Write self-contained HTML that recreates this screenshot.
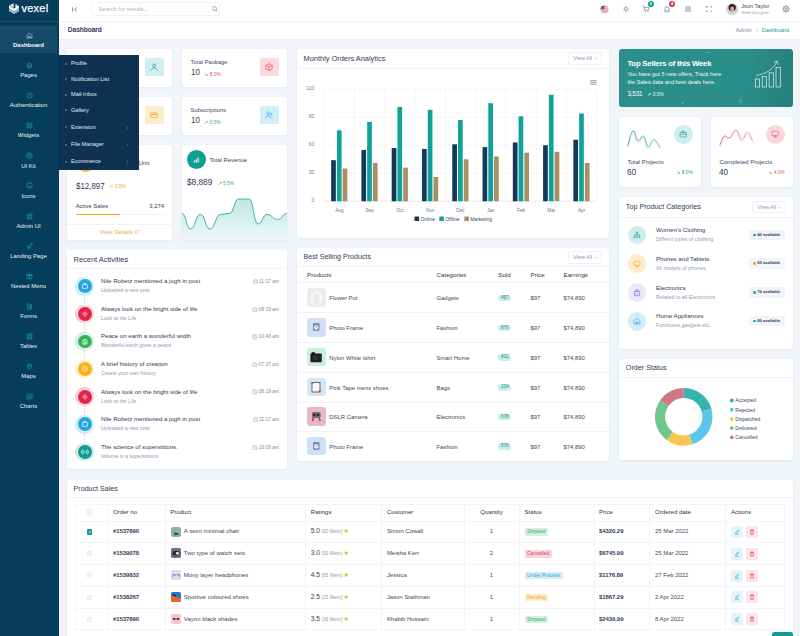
<!DOCTYPE html><html><head><meta charset="utf-8"><title>Vexel Dashboard</title><style>
*{box-sizing:border-box;margin:0;padding:0}
html,body{width:800px;height:636px;overflow:hidden}
body{position:relative;background:#f1f5f9;font-family:"Liberation Sans",sans-serif;color:#3b4863;font-size:5.9px;line-height:1.36}
.a{position:absolute;white-space:nowrap}
.card{position:absolute;background:#fff;border-radius:3px;box-shadow:0 1px 3px rgba(160,175,200,.18)}
.ct{position:absolute;left:6px;font-size:7px;color:#2f3a55;white-space:nowrap}
.hr{position:absolute;left:0;right:0;height:1px;background:#f1f3f7}
.mut{color:#8f9bb3}
#side{position:absolute;left:0;top:0;width:59px;height:636px;background:#063d5a}
.si{position:absolute;left:0;width:59px;text-align:center;color:#e9f1f6;font-size:5.9px;white-space:nowrap}
.sic{position:absolute;left:25.5px;width:7px;height:7px}
#sub{position:absolute;left:59px;top:55px;width:80px;height:115px;background:rgba(11,47,80,.985)}
.sm{position:absolute;left:12px;color:#e3ebf3;font-size:5.6px;white-space:nowrap}
.sd{position:absolute;left:6.4px;width:1.6px;height:1.6px;border-radius:50%;border:.4px solid #6f8aa6}
.btn{position:absolute;border:1px solid #eef1f6;border-radius:2px;background:#fff;color:#8f9bb3;font-size:5.4px;text-align:center}
th,td{font-weight:normal;text-align:left}
</style></head><body>
<div class="a" style="left:59px;top:0;width:741px;height:21.5px;background:#fff;border-bottom:1px solid #f1f3f7"></div>
<div class="a" style="left:59px;top:21.5px;width:741px;height:17px;background:#fff;box-shadow:0 1px 2px rgba(160,175,200,.15)"></div>
<div class="a" style="left:67.8px;top:24.8px;font-size:6.7px;color:#2f3a55;font-weight:bold;letter-spacing:-.1px">Dashboard</div>
<svg class="a" style="left:71.5px;top:6.5px" width="6" height="5" viewBox="0 0 6 5"><path d="M.6 .3V4.7M5 .5L2.4 2.5L5 4.5" fill="none" stroke="#6b7892" stroke-width=".8"/></svg>
<div class="a" style="left:91.3px;top:2px;width:129.2px;height:13.6px;border:1px solid #f0f2f6;border-radius:2.5px;background:#fff"></div>
<div class="a" style="left:98.3px;top:6.2px;font-size:5.8px;color:#a7b1c6">Search for results...</div>
<svg class="a" style="left:211.5px;top:6.2px" width="6" height="6" viewBox="0 0 6 6"><circle cx="2.6" cy="2.6" r="2" fill="none" stroke="#7d89a3" stroke-width=".7"/><path d="M4.1 4.1L5.4 5.4" stroke="#7d89a3" stroke-width=".7"/></svg>
<svg class="a" style="left:600px;top:4.7px" width="9" height="9" viewBox="0 0 9 9"><defs><clipPath id="fc"><circle cx="4.5" cy="4.5" r="4"/></clipPath></defs><g clip-path="url(#fc)"><rect width="9" height="9" fill="#f6c4cb"/><path d="M0 1.6H9M0 3.4H9M0 5.2H9M0 7H9" stroke="#ee8e9a" stroke-width=".8"/><rect width="4.4" height="4.2" fill="#4f63ad"/></g></svg>
<svg class="a" style="left:621.5px;top:5px" width="8" height="8" viewBox="0 0 8 8"><circle cx="4" cy="4" r="1.5" fill="none" stroke="#68748d" stroke-width=".65"/><path d="M4 .6V1.6M4 6.4V7.4M.6 4H1.6M6.4 4H7.4M1.6 1.6L2.3 2.3M5.7 5.7L6.4 6.4M1.6 6.4L2.3 5.7M5.7 2.3L6.4 1.6" stroke="#68748d" stroke-width=".6"/></svg>
<svg class="a" style="left:642px;top:5px" width="8" height="8" viewBox="0 0 8 8"><path d="M.6 1H1.8L2.8 5.2H6.4L7 2.4H2.2" fill="none" stroke="#6b7892" stroke-width=".7"/><circle cx="3.2" cy="6.6" r=".6" fill="#6b7892"/><circle cx="6" cy="6.6" r=".6" fill="#6b7892"/></svg>
<div class="a" style="left:647.8px;top:.6px;width:6px;height:6px;border-radius:50%;background:#0f9d94;color:#fff;font-size:4px;text-align:center;line-height:6px;font-weight:bold">5</div>
<svg class="a" style="left:663px;top:5px" width="8" height="8" viewBox="0 0 8 8"><path d="M2 5.6V3.6A2 2 0 0 1 6 3.6V5.6L6.6 6.2H1.4Z" fill="none" stroke="#6b7892" stroke-width=".7"/><path d="M3.4 7.2H4.6" stroke="#6b7892" stroke-width=".7"/></svg>
<div class="a" style="left:669px;top:.6px;width:6px;height:6px;border-radius:50%;background:#e2384d;color:#fff;font-size:4px;text-align:center;line-height:6px;font-weight:bold">4</div>
<svg class="a" style="left:684.7px;top:6px" width="6.2" height="6.2" viewBox="0 0 6.2 6.2"><rect x="0.4" y="0.4" width="1.3" height="1.3" fill="#77829a"/><rect x="0.4" y="2.4" width="1.3" height="1.3" fill="#77829a"/><rect x="0.4" y="4.4" width="1.3" height="1.3" fill="#77829a"/><rect x="2.4" y="0.4" width="1.3" height="1.3" fill="#77829a"/><rect x="2.4" y="2.4" width="1.3" height="1.3" fill="#77829a"/><rect x="2.4" y="4.4" width="1.3" height="1.3" fill="#77829a"/><rect x="4.4" y="0.4" width="1.3" height="1.3" fill="#77829a"/><rect x="4.4" y="2.4" width="1.3" height="1.3" fill="#77829a"/><rect x="4.4" y="4.4" width="1.3" height="1.3" fill="#77829a"/></svg>
<svg class="a" style="left:705.5px;top:6px" width="6.4" height="6.4" viewBox="0 0 6.4 6.4"><path d="M.4 2V.4H2M4.4 .4H6V2M6 4.4V6H4.4M2 6H.4V4.4" fill="none" stroke="#6b7892" stroke-width=".7"/></svg>
<svg class="a" style="left:725.5px;top:3px" width="12.4" height="12.4" viewBox="0 0 12.4 12.4"><defs><clipPath id="av"><circle cx="6.2" cy="6.2" r="5.6"/></clipPath></defs><circle cx="6.2" cy="6.2" r="6" fill="#d9dde3"/><g clip-path="url(#av)"><rect width="12.4" height="12.4" fill="#cfd3d8"/><ellipse cx="6.2" cy="4.6" rx="3.7" ry="3.7" fill="#2e2421"/><ellipse cx="6.2" cy="6" rx="2" ry="2.5" fill="#d6a68a"/><path d="M1.5 12.4C2 9.2 10.400 9.2 10.900 12.4Z" fill="#ded9d3"/></g></svg>
<div class="a" style="left:741.3px;top:2.9px;font-size:5.6px;color:#3b4863">Json Taylor</div>
<div class="a" style="left:741.3px;top:10px;font-size:4.4px;color:#9aa1b0">Web Designer</div>
<svg class="a" style="left:781.5px;top:5px" width="8" height="8" viewBox="0 0 8 8"><path d="M6.50 4.00L7.40 4.00M5.77 5.77L6.40 6.40M4.00 6.50L4.00 7.40M2.23 5.77L1.60 6.40M1.50 4.00L0.60 4.00M2.23 2.23L1.60 1.60M4.00 1.50L4.00 0.60M5.77 2.23L6.40 1.60" stroke="#5f6b85" stroke-width="1.25" fill="none"/><circle cx="4" cy="4" r="2.4" fill="#fff" stroke="#5f6b85" stroke-width=".65"/><circle cx="4" cy="4" r=".95" fill="none" stroke="#5f6b85" stroke-width=".55"/></svg>
<div class="a" style="left:735.8px;top:26.7px;font-size:5.6px;color:#7d89a3">Admin</div>
<div class="a" style="left:756.6px;top:26.7px;font-size:5.6px;color:#b6bfd0">/</div>
<div class="a" style="left:761.8px;top:26.7px;font-size:5.6px;color:#2a9d96">Dashboard</div>
<div class="card" style="left:67px;top:49px;width:105px;height:38px">
<div class="a" style="left:8.6px;top:9px;font-size:5.9px;color:#3b4863">Total Users</div>
<div class="a" style="left:9px;top:16.7px;font-size:9.2px;color:#394158;transform:scaleX(.87);transform-origin:0 0">45</div>
<div class="a" style="left:22.4px;top:23.2px;font-size:4.9px;color:#3cb66b">↗ 0.5%</div>
<div class="a" style="left:77.8px;top:8.7px;width:18.8px;height:18.6px;border-radius:2px;background:#cfeeee"></div>
<svg class="a" style="left:83.1px;top:13.9px" width="8.2" height="8.2" viewBox="0 0 7 7" fill="none" stroke="#1f9d96" stroke-width=".62"><circle cx="3.5" cy="2.2" r="1.3"/><path d="M1 6.2C1.2 3.6 5.8 3.6 6 6.2"/></svg>
</div>
<div class="card" style="left:182px;top:49px;width:105px;height:38px">
<div class="a" style="left:8.6px;top:9px;font-size:5.9px;color:#3b4863">Total Package</div>
<div class="a" style="left:9px;top:16.7px;font-size:9.2px;color:#394158;transform:scaleX(.87);transform-origin:0 0">10</div>
<div class="a" style="left:22.4px;top:23.2px;font-size:4.9px;color:#e2566b">↘ 8.0%</div>
<div class="a" style="left:77.8px;top:8.7px;width:18.8px;height:18.6px;border-radius:2px;background:#fadadd"></div>
<svg class="a" style="left:83.1px;top:13.9px" width="8.2" height="8.2" viewBox="0 0 7 7" fill="none" stroke="#e2566b" stroke-width=".62"><path d="M3.5 .6L6.2 2V5L3.5 6.4L.8 5V2ZM.8 2L3.5 3.4L6.2 2M3.5 3.4V6.4"/></svg>
</div>
<div class="card" style="left:67px;top:97px;width:105px;height:38px">
<div class="a" style="left:8.6px;top:9px;font-size:5.9px;color:#3b4863">Total Payments</div>
<div class="a" style="left:9px;top:16.7px;font-size:9.2px;color:#394158;transform:scaleX(.87);transform-origin:0 0">60</div>
<div class="a" style="left:22.4px;top:23.2px;font-size:4.9px;color:#3cb66b">↗ 0.5%</div>
<div class="a" style="left:77.8px;top:8.7px;width:18.8px;height:18.6px;border-radius:2px;background:#fdeccb"></div>
<svg class="a" style="left:83.1px;top:13.9px" width="8.2" height="8.2" viewBox="0 0 7 7" fill="none" stroke="#f3ae2b" stroke-width=".62"><rect x=".6" y="1.4" width="5.8" height="4.2" rx=".6"/><path d="M.6 3H6.4" stroke-width="1"/></svg>
</div>
<div class="card" style="left:182px;top:97px;width:105px;height:38px">
<div class="a" style="left:8.6px;top:9px;font-size:5.9px;color:#3b4863">Subscriptions</div>
<div class="a" style="left:9px;top:16.7px;font-size:9.2px;color:#394158;transform:scaleX(.87);transform-origin:0 0">10</div>
<div class="a" style="left:22.4px;top:23.2px;font-size:4.9px;color:#3cb66b">↗ 0.5%</div>
<div class="a" style="left:77.8px;top:8.7px;width:18.8px;height:18.6px;border-radius:2px;background:#d3edf9"></div>
<svg class="a" style="left:83.1px;top:13.9px" width="8.2" height="8.2" viewBox="0 0 7 7" fill="none" stroke="#3aa7dc" stroke-width=".62"><circle cx="2.8" cy="2.2" r="1.3"/><path d="M.5 6.2C.7 3.6 4.9 3.6 5.1 6.2M5.6 1.8V3.6M4.7 2.7H6.5"/></svg>
</div>
<div class="card" style="left:67px;top:145px;width:105px;height:95px">
<div class="a" style="left:8.5px;top:7.8px;width:19px;height:19px;border-radius:50%;background:#f7b731"></div>
<div class="a" style="left:33.2px;top:13.7px;font-size:5.9px">Total Cost Per Unit</div>
<div class="a" style="left:8.6px;top:34.6px;font-size:9.2px;color:#2f3a55;transform:scaleX(.86);transform-origin:0 0">$12,897</div>
<div class="a" style="left:42.4px;top:39.3px;font-size:4.9px;color:#f3a33a">↗ 3.5%</div>
<div class="a" style="left:8.7px;top:56.5px;font-size:5.9px;color:#2f3a55">Active Sales</div>
<div class="a" style="right:8px;top:56.5px;font-size:5.9px;color:#2f3a55">3,274</div>
<div class="a" style="left:8.7px;top:69px;width:88.3px;height:1.3px;border-radius:1px;background:#eef1f6"></div>
<div class="a" style="left:8.7px;top:69px;width:44.3px;height:1.3px;border-radius:1px;background:#f7a90e"></div>
<div class="hr" style="top:79.3px"></div>
<div class="a" style="left:0;width:105px;text-align:center;top:83px;font-size:6.1px;color:#f3a33a">View Details <svg width="4.6" height="4.6" viewBox="0 0 5 5" style="vertical-align:-.4px"><path d="M2 .8H.8V4.2H4.2V3M2.8 .6H4.4V2.2M4.4 .6L2.3 2.7" fill="none" stroke="#f3a33a" stroke-width=".5"/></svg></div>
</div>
<div class="card" style="left:182px;top:145px;width:105px;height:95px;overflow:hidden">
<div class="a" style="left:5px;top:5px;width:19px;height:19px;border-radius:50%;background:#0f9d94"></div>
<svg class="a" style="left:11px;top:10.6px" width="7.4" height="7.4" viewBox="0 0 7.4 7.4"><path d="M1.4 6.6V4.6M3.2 6.6V3.2M5.1 6.6V1.2" stroke="#d8f3f0" stroke-width="1.3"/></svg>
<div class="a" style="left:27.4px;top:11.2px;font-size:5.9px">Total Revenue</div>
<div class="a" style="left:5.3px;top:31px;font-size:9.2px;color:#2f3a55;transform:scaleX(.9);transform-origin:0 0">$8,889</div>
<div class="a" style="left:35.6px;top:35.6px;font-size:4.9px;color:#3cb66b">↗ 5.5%</div>
<svg class="a" style="left:0;top:0" width="105" height="95" viewBox="0 0 105 95"><defs><linearGradient id="rg" x1="0" y1="0" x2="0" y2="1"><stop offset="0" stop-color="#bfe6e3"/><stop offset="1" stop-color="#eef9f8"/></linearGradient></defs><path d="M0.00 68.50C4.25 68.50 4.25 84.00 8.50 84.00C13.45 84.00 13.45 69.40 18.40 69.40C23.20 69.40 23.20 84.00 28.00 84.00C33.25 84.00 33.25 69.40 38.50 69.40C43.00 69.40 43.00 68.50 47.50 68.50C52.00 68.50 52.00 54.00 56.50 54.00C61.75 54.00 61.75 54.00 67.00 54.00C71.50 54.00 71.50 79.00 76.00 79.00C80.50 79.00 80.50 69.40 85.00 69.40C90.25 69.40 90.25 74.50 95.50 74.50C100.25 74.50 100.25 68.50 105.00 68.50L105 95L0 95Z" fill="url(#rg)"/><path d="M0.00 68.50C4.25 68.50 4.25 84.00 8.50 84.00C13.45 84.00 13.45 69.40 18.40 69.40C23.20 69.40 23.20 84.00 28.00 84.00C33.25 84.00 33.25 69.40 38.50 69.40C43.00 69.40 43.00 68.50 47.50 68.50C52.00 68.50 52.00 54.00 56.50 54.00C61.75 54.00 61.75 54.00 67.00 54.00C71.50 54.00 71.50 79.00 76.00 79.00C80.50 79.00 80.50 69.40 85.00 69.40C90.25 69.40 90.25 74.50 95.50 74.50C100.25 74.50 100.25 68.50 105.00 68.50" fill="none" stroke="#2aa9a3" stroke-width=".9"/></svg>
</div>
<div class="card" style="left:67px;top:250px;width:220px;height:218.5px">
<div class="ct" style="top:4.6px;left:6.6px;font-size:7.45px">Recent Activities</div><div class="hr" style="top:17.6px"></div>
<div class="a" style="left:8.399999999999999px;top:27.0px;width:18.6px;height:18.6px;border-radius:50%;background:#25a8e0;opacity:.24"></div>
<div class="a" style="left:9.6px;top:28.2px;width:16.2px;height:16.2px;border-radius:50%;background:#fff;opacity:.4"></div>
<div class="a" style="left:10.799999999999999px;top:29.4px;width:13.8px;height:13.8px;border-radius:50%;background:#25a8e0"></div>
<div class="a" style="left:17.4px;top:45.9px;height:8.4px;width:0;border-left:.7px dotted #25a8e0;opacity:.3"></div>
<svg class="a" style="left:13.799999999999999px;top:32.4px" width="7.8" height="7.8" viewBox="0 0 5.6 5.6" fill="none" stroke="#fff" stroke-width=".48"><rect x="1" y="1.8" width="3.6" height="2.8" rx=".4"/><path d="M2.1 1.8V1.1H3.5V1.8"/></svg>
<div class="a" style="left:34px;top:27.2px;font-size:6.07px;color:#2f3a55">Nile Robetz mentioned a jogh in post</div>
<div class="a mut" style="left:34px;top:37.2px;font-size:5.2px">Uploaded a new post</div>
<div class="a" style="right:8px;top:28.9px;font-size:4.9px;color:#7d89a3"><svg width="5.6" height="5.6" viewBox="0 0 5 5" style="vertical-align:-1.2px;margin-right:-.6px"><circle cx="2.5" cy="2.5" r="2" fill="none" stroke="#7d89a3" stroke-width=".45"/><path d="M2.5 1.3V2.6L3.3 3" fill="none" stroke="#7d89a3" stroke-width=".45"/></svg> 11:17 am</div>
<div class="a" style="left:8.399999999999999px;top:54.6px;width:18.6px;height:18.6px;border-radius:50%;background:#e4234b;opacity:.24"></div>
<div class="a" style="left:9.6px;top:55.8px;width:16.2px;height:16.2px;border-radius:50%;background:#fff;opacity:.4"></div>
<div class="a" style="left:10.799999999999999px;top:57.0px;width:13.8px;height:13.8px;border-radius:50%;background:#e4234b"></div>
<div class="a" style="left:17.4px;top:73.5px;height:8.4px;width:0;border-left:.7px dotted #e4234b;opacity:.3"></div>
<svg class="a" style="left:13.799999999999999px;top:60.0px" width="7.8" height="7.8" viewBox="0 0 5.6 5.6" fill="none" stroke="#fff" stroke-width=".48"><circle cx="2.8" cy="2.8" r=".9"/><path d="M2.8 .9V1.4M2.8 4.2V4.7M.9 2.8H1.4M4.2 2.8H4.7M1.5 1.5L1.8 1.8M3.8 3.8L4.1 4.1M1.5 4.1L1.8 3.8M3.8 1.8L4.1 1.5"/></svg>
<div class="a" style="left:34px;top:54.8px;font-size:6.07px;color:#2f3a55">Always look on the bright side of life</div>
<div class="a mut" style="left:34px;top:64.8px;font-size:5.2px">Look at the Life</div>
<div class="a" style="right:8px;top:56.5px;font-size:4.9px;color:#7d89a3"><svg width="5.6" height="5.6" viewBox="0 0 5 5" style="vertical-align:-1.2px;margin-right:-.6px"><circle cx="2.5" cy="2.5" r="2" fill="none" stroke="#7d89a3" stroke-width=".45"/><path d="M2.5 1.3V2.6L3.3 3" fill="none" stroke="#7d89a3" stroke-width=".45"/></svg> 08:19 am</div>
<div class="a" style="left:8.399999999999999px;top:82.2px;width:18.6px;height:18.6px;border-radius:50%;background:#34b35f;opacity:.24"></div>
<div class="a" style="left:9.6px;top:83.4px;width:16.2px;height:16.2px;border-radius:50%;background:#fff;opacity:.4"></div>
<div class="a" style="left:10.799999999999999px;top:84.6px;width:13.8px;height:13.8px;border-radius:50%;background:#34b35f"></div>
<div class="a" style="left:17.4px;top:101.1px;height:8.4px;width:0;border-left:.7px dotted #34b35f;opacity:.3"></div>
<svg class="a" style="left:13.799999999999999px;top:87.6px" width="7.8" height="7.8" viewBox="0 0 5.6 5.6" fill="none" stroke="#fff" stroke-width=".48"><circle cx="2.8" cy="2.8" r="1.8"/><path d="M2.8 1V4.6M2.8 2.8L1.6 4M2.8 2.8L4 4"/></svg>
<div class="a" style="left:34px;top:82.4px;font-size:6.07px;color:#2f3a55">Peace on earth a wonderful width</div>
<div class="a mut" style="left:34px;top:92.4px;font-size:5.2px">Wonderful earth gives a peace</div>
<div class="a" style="right:8px;top:84.1px;font-size:4.9px;color:#7d89a3"><svg width="5.6" height="5.6" viewBox="0 0 5 5" style="vertical-align:-1.2px;margin-right:-.6px"><circle cx="2.5" cy="2.5" r="2" fill="none" stroke="#7d89a3" stroke-width=".45"/><path d="M2.5 1.3V2.6L3.3 3" fill="none" stroke="#7d89a3" stroke-width=".45"/></svg> 10:43 am</div>
<div class="a" style="left:8.399999999999999px;top:109.8px;width:18.6px;height:18.6px;border-radius:50%;background:#f7b21e;opacity:.24"></div>
<div class="a" style="left:9.6px;top:111.0px;width:16.2px;height:16.2px;border-radius:50%;background:#fff;opacity:.4"></div>
<div class="a" style="left:10.799999999999999px;top:112.2px;width:13.8px;height:13.8px;border-radius:50%;background:#f7b21e"></div>
<div class="a" style="left:17.4px;top:128.7px;height:8.4px;width:0;border-left:.7px dotted #f7b21e;opacity:.3"></div>
<svg class="a" style="left:13.799999999999999px;top:115.2px" width="7.8" height="7.8" viewBox="0 0 5.6 5.6" fill="none" stroke="#fff" stroke-width=".48"><circle cx="2.8" cy="2.8" r="1.8"/><path d="M2.8 1.8V2.9L3.5 3.3"/></svg>
<div class="a" style="left:34px;top:110.0px;font-size:6.07px;color:#2f3a55">A brief history of creation</div>
<div class="a mut" style="left:34px;top:120.0px;font-size:5.2px">Create your own history</div>
<div class="a" style="right:8px;top:111.7px;font-size:4.9px;color:#7d89a3"><svg width="5.6" height="5.6" viewBox="0 0 5 5" style="vertical-align:-1.2px;margin-right:-.6px"><circle cx="2.5" cy="2.5" r="2" fill="none" stroke="#7d89a3" stroke-width=".45"/><path d="M2.5 1.3V2.6L3.3 3" fill="none" stroke="#7d89a3" stroke-width=".45"/></svg> 07:27 pm</div>
<div class="a" style="left:8.399999999999999px;top:137.4px;width:18.6px;height:18.6px;border-radius:50%;background:#e4234b;opacity:.24"></div>
<div class="a" style="left:9.6px;top:138.6px;width:16.2px;height:16.2px;border-radius:50%;background:#fff;opacity:.4"></div>
<div class="a" style="left:10.799999999999999px;top:139.8px;width:13.8px;height:13.8px;border-radius:50%;background:#e4234b"></div>
<div class="a" style="left:17.4px;top:156.3px;height:8.4px;width:0;border-left:.7px dotted #e4234b;opacity:.3"></div>
<svg class="a" style="left:13.799999999999999px;top:142.8px" width="7.8" height="7.8" viewBox="0 0 5.6 5.6" fill="none" stroke="#fff" stroke-width=".48"><circle cx="2.8" cy="2.8" r=".9"/><path d="M2.8 .9V1.4M2.8 4.2V4.7M.9 2.8H1.4M4.2 2.8H4.7M1.5 1.5L1.8 1.8M3.8 3.8L4.1 4.1M1.5 4.1L1.8 3.8M3.8 1.8L4.1 1.5"/></svg>
<div class="a" style="left:34px;top:137.6px;font-size:6.07px;color:#2f3a55">Always look on the bright side of life</div>
<div class="a mut" style="left:34px;top:147.6px;font-size:5.2px">Look at the Life</div>
<div class="a" style="right:8px;top:139.3px;font-size:4.9px;color:#7d89a3"><svg width="5.6" height="5.6" viewBox="0 0 5 5" style="vertical-align:-1.2px;margin-right:-.6px"><circle cx="2.5" cy="2.5" r="2" fill="none" stroke="#7d89a3" stroke-width=".45"/><path d="M2.5 1.3V2.6L3.3 3" fill="none" stroke="#7d89a3" stroke-width=".45"/></svg> 08:19 am</div>
<div class="a" style="left:8.399999999999999px;top:165.0px;width:18.6px;height:18.6px;border-radius:50%;background:#25a8e0;opacity:.24"></div>
<div class="a" style="left:9.6px;top:166.2px;width:16.2px;height:16.2px;border-radius:50%;background:#fff;opacity:.4"></div>
<div class="a" style="left:10.799999999999999px;top:167.4px;width:13.8px;height:13.8px;border-radius:50%;background:#25a8e0"></div>
<div class="a" style="left:17.4px;top:183.9px;height:8.4px;width:0;border-left:.7px dotted #25a8e0;opacity:.3"></div>
<svg class="a" style="left:13.799999999999999px;top:170.4px" width="7.8" height="7.8" viewBox="0 0 5.6 5.6" fill="none" stroke="#fff" stroke-width=".48"><rect x="1" y="1.8" width="3.6" height="2.8" rx=".4"/><path d="M2.1 1.8V1.1H3.5V1.8"/></svg>
<div class="a" style="left:34px;top:165.2px;font-size:6.07px;color:#2f3a55">Nile Robetz mentioned a jogh in post</div>
<div class="a mut" style="left:34px;top:175.2px;font-size:5.2px">Uploaded a new post</div>
<div class="a" style="right:8px;top:166.9px;font-size:4.9px;color:#7d89a3"><svg width="5.6" height="5.6" viewBox="0 0 5 5" style="vertical-align:-1.2px;margin-right:-.6px"><circle cx="2.5" cy="2.5" r="2" fill="none" stroke="#7d89a3" stroke-width=".45"/><path d="M2.5 1.3V2.6L3.3 3" fill="none" stroke="#7d89a3" stroke-width=".45"/></svg> 11:17 am</div>
<div class="a" style="left:8.399999999999999px;top:192.6px;width:18.6px;height:18.6px;border-radius:50%;background:#0f9d94;opacity:.24"></div>
<div class="a" style="left:9.6px;top:193.8px;width:16.2px;height:16.2px;border-radius:50%;background:#fff;opacity:.4"></div>
<div class="a" style="left:10.799999999999999px;top:195.0px;width:13.8px;height:13.8px;border-radius:50%;background:#0f9d94"></div>
<svg class="a" style="left:13.799999999999999px;top:198.0px" width="7.8" height="7.8" viewBox="0 0 5.6 5.6" fill="none" stroke="#fff" stroke-width=".48"><path d="M2.8 2V3.6M1.9 1.6A1.6 1.6 0 0 0 1.9 4M3.7 1.6A1.6 1.6 0 0 1 3.7 4M1.1 1A2.6 2.6 0 0 0 1.1 4.6M4.5 1A2.6 2.6 0 0 1 4.5 4.6"/></svg>
<div class="a" style="left:34px;top:192.8px;font-size:6.07px;color:#2f3a55">The science of superstitions.</div>
<div class="a mut" style="left:34px;top:202.8px;font-size:5.2px">Volume is a superstitions</div>
<div class="a" style="right:8px;top:194.5px;font-size:4.9px;color:#7d89a3"><svg width="5.6" height="5.6" viewBox="0 0 5 5" style="vertical-align:-1.2px;margin-right:-.6px"><circle cx="2.5" cy="2.5" r="2" fill="none" stroke="#7d89a3" stroke-width=".45"/><path d="M2.5 1.3V2.6L3.3 3" fill="none" stroke="#7d89a3" stroke-width=".45"/></svg> 10:09 am</div>
</div>
<div class="card" style="left:297px;top:49px;width:312px;height:188.5px">
<div class="ct" style="top:4.6px;left:6.6px;font-size:7.4px">Monthly Orders Analytics</div><div class="hr" style="top:18.8px"></div>
<div class="btn" style="left:270.8px;top:2.7px;width:34.6px;height:13.4px;line-height:11.6px">View All <svg width="3.4" height="3" viewBox="0 0 4 3"><path d="M.6 .8L2 2.2L3.4 .8" fill="none" stroke="#8f9bb3" stroke-width=".6"/></svg></div>
<svg class="a" style="left:0;top:24px" width="312" height="164" viewBox="297 73 312 164" font-family="Liberation Sans, sans-serif"><path d="M324.25 201.25H596.8" stroke="#e9ecf1" stroke-width=".5"/><text x="314" y="201.65" font-size="4.7" fill="#707886" text-anchor="end">0</text><path d="M324.25 173.25H596.8" stroke="#e9ecf1" stroke-width=".5"/><text x="314" y="173.65" font-size="4.7" fill="#707886" text-anchor="end">30</text><path d="M324.25 145.25H596.8" stroke="#e9ecf1" stroke-width=".5"/><text x="314" y="145.65" font-size="4.7" fill="#707886" text-anchor="end">60</text><path d="M324.25 117.25H596.8" stroke="#e9ecf1" stroke-width=".5"/><text x="314" y="117.65" font-size="4.7" fill="#707886" text-anchor="end">90</text><path d="M324.25 89.25H596.8" stroke="#e9ecf1" stroke-width=".5"/><text x="314" y="89.65" font-size="4.7" fill="#707886" text-anchor="end">120</text><path d="M324.25 89.25V201.25" stroke="#e9ecf1" stroke-width=".5"/><path d="M354.53 89.25V201.25" stroke="#e9ecf1" stroke-width=".5"/><path d="M384.81 89.25V201.25" stroke="#e9ecf1" stroke-width=".5"/><path d="M415.09 89.25V201.25" stroke="#e9ecf1" stroke-width=".5"/><path d="M445.37 89.25V201.25" stroke="#e9ecf1" stroke-width=".5"/><path d="M475.65 89.25V201.25" stroke="#e9ecf1" stroke-width=".5"/><path d="M505.93 89.25V201.25" stroke="#e9ecf1" stroke-width=".5"/><path d="M536.21 89.25V201.25" stroke="#e9ecf1" stroke-width=".5"/><path d="M566.49 89.25V201.25" stroke="#e9ecf1" stroke-width=".5"/><path d="M596.77 89.25V201.25" stroke="#e9ecf1" stroke-width=".5"/><path d="M324.25 201.25H596.8" stroke="#dfe3ea" stroke-width=".6"/><rect x="331.14" y="160.18" width="4.7" height="41.07" fill="#133a58"/><rect x="336.89" y="130.32" width="4.7" height="70.93" fill="#0fa29c"/><rect x="342.64" y="168.58" width="4.7" height="32.67" fill="#a99062"/><text x="339.39" y="211.7" font-size="4.7" fill="#707886" text-anchor="middle">Aug</text><rect x="361.42" y="149.92" width="4.7" height="51.33" fill="#133a58"/><rect x="367.17" y="121.92" width="4.7" height="79.33" fill="#0fa29c"/><rect x="372.92" y="162.98" width="4.7" height="38.27" fill="#a99062"/><text x="369.67" y="211.7" font-size="4.7" fill="#707886" text-anchor="middle">Sep</text><rect x="391.70" y="148.05" width="4.7" height="53.20" fill="#133a58"/><rect x="397.45" y="106.98" width="4.7" height="94.27" fill="#0fa29c"/><rect x="403.20" y="167.65" width="4.7" height="33.60" fill="#a99062"/><text x="399.95" y="211.7" font-size="4.7" fill="#707886" text-anchor="middle">Oct</text><rect x="421.98" y="148.98" width="4.7" height="52.27" fill="#133a58"/><rect x="427.73" y="109.78" width="4.7" height="91.47" fill="#0fa29c"/><rect x="433.48" y="176.98" width="4.7" height="24.27" fill="#a99062"/><text x="430.23" y="211.7" font-size="4.7" fill="#707886" text-anchor="middle">Nov</text><rect x="452.26" y="144.32" width="4.7" height="56.93" fill="#133a58"/><rect x="458.01" y="120.05" width="4.7" height="81.20" fill="#0fa29c"/><rect x="463.76" y="159.25" width="4.7" height="42.00" fill="#a99062"/><text x="460.51" y="211.7" font-size="4.7" fill="#707886" text-anchor="middle">Dec</text><rect x="482.54" y="147.12" width="4.7" height="54.13" fill="#133a58"/><rect x="488.29" y="103.25" width="4.7" height="98.00" fill="#0fa29c"/><rect x="494.04" y="156.45" width="4.7" height="44.80" fill="#a99062"/><text x="490.79" y="211.7" font-size="4.7" fill="#707886" text-anchor="middle">Jan</text><rect x="512.82" y="142.45" width="4.7" height="58.80" fill="#133a58"/><rect x="518.57" y="116.32" width="4.7" height="84.93" fill="#0fa29c"/><rect x="524.32" y="152.72" width="4.7" height="48.53" fill="#a99062"/><text x="521.07" y="211.7" font-size="4.7" fill="#707886" text-anchor="middle">Feb</text><rect x="543.10" y="145.25" width="4.7" height="56.00" fill="#133a58"/><rect x="548.85" y="94.85" width="4.7" height="106.40" fill="#0fa29c"/><rect x="554.60" y="151.78" width="4.7" height="49.47" fill="#a99062"/><text x="551.35" y="211.7" font-size="4.7" fill="#707886" text-anchor="middle">Mar</text><rect x="573.38" y="139.65" width="4.7" height="61.60" fill="#133a58"/><rect x="579.13" y="113.52" width="4.7" height="87.73" fill="#0fa29c"/><rect x="584.88" y="162.98" width="4.7" height="38.27" fill="#a99062"/><text x="581.63" y="211.7" font-size="4.7" fill="#707886" text-anchor="middle">Apr</text><rect x="414.5" y="216.5" width="4.6" height="4.6" rx=".5" fill="#133a58"/><text x="420.6" y="220.6" font-size="5" fill="#3b4863">Online</text><rect x="439.3" y="216.5" width="4.6" height="4.6" rx=".5" fill="#0fa29c"/><text x="445.2" y="220.6" font-size="5" fill="#3b4863">Offline</text><rect x="464.3" y="216.5" width="4.6" height="4.6" rx=".5" fill="#a99062"/><text x="470.2" y="220.6" font-size="5" fill="#3b4863">Marketing</text><path d="M590.2 80.6H596.6M590.2 82.4H596.6M590.2 84.2H596.6" stroke="#6b7892" stroke-width=".7"/></svg>
</div>
<div class="card" style="left:297px;top:248px;width:312px;height:213px">
<div class="ct" style="top:5.4px;left:6.6px;font-size:7.1px">Best Selling Products</div><div class="hr" style="top:18.2px"></div>
<div class="btn" style="left:270.8px;top:2.7px;width:34.6px;height:13.4px;line-height:11.6px">View All <svg width="3.4" height="3" viewBox="0 0 4 3"><path d="M.6 .8L2 2.2L3.4 .8" fill="none" stroke="#8f9bb3" stroke-width=".6"/></svg></div>
<div class="a" style="left:10px;top:22.6px;font-size:6.2px;color:#2a3350">Products</div>
<div class="a" style="left:139.5px;top:22.6px;font-size:6.2px;color:#2a3350">Categories</div>
<div class="a" style="left:201.3px;top:22.6px;font-size:6.2px;color:#2a3350">Sold</div>
<div class="a" style="left:233.5px;top:22.6px;font-size:6.2px;color:#2a3350">Price</div>
<div class="a" style="left:266.5px;top:22.6px;font-size:6.2px;color:#2a3350">Earnings</div>
<div class="hr" style="top:34.3px"></div>
<div class="a" style="left:10px;top:40.3px;width:18.6px;height:18.6px;border-radius:3px;background:#ececec"><svg width="18.6" height="18.6" viewBox="0 0 18.6 18.6"><path d="M5 12V9A4.5 4.5 0 0 1 14 9V12" fill="none" stroke="#fff" stroke-width="1.6"/><rect x="3.8" y="10.4" width="2.6" height="4" rx="1" fill="#f8f8f8"/><rect x="12.4" y="10.4" width="2.6" height="4" rx="1" fill="#f8f8f8"/></svg></div>
<div class="a" style="left:32.3px;top:46.4px;font-size:5.9px">Flower Pot</div>
<div class="a" style="left:139.5px;top:46.4px;font-size:5.9px">Gadgets</div>
<div class="a" style="left:201.3px;top:46.8px;width:13px;height:6.6px;border-radius:3.3px;background:#c9ecea;color:#158f88;font-size:4.5px;text-align:center;line-height:6.6px">457</div>
<div class="a" style="left:233.5px;top:46.4px;font-size:5.9px">$97</div>
<div class="a" style="left:266.5px;top:46.4px;font-size:5.9px">$74,890</div>
<div class="hr" style="top:64.4px"></div>
<div class="a" style="left:10px;top:70.0px;width:18.6px;height:18.6px;border-radius:3px;background:#cfe0f7"><svg width="18.6" height="18.6" viewBox="0 0 18.6 18.6"><rect x="6" y="5" width="6.6" height="8" rx="1.4" fill="#7d8fb0"/><circle cx="9.3" cy="9.4" r="2.2" fill="#eef3fb"/><path d="M9.3 8.2V9.5H10.2" stroke="#5b6c8c" stroke-width=".5" fill="none"/></svg></div>
<div class="a" style="left:32.3px;top:76.1px;font-size:5.9px">Photo Frame</div>
<div class="a" style="left:139.5px;top:76.1px;font-size:5.9px">Fashion</div>
<div class="a" style="left:201.3px;top:76.5px;width:13px;height:6.6px;border-radius:3.3px;background:#c9ecea;color:#158f88;font-size:4.5px;text-align:center;line-height:6.6px">876</div>
<div class="a" style="left:233.5px;top:76.1px;font-size:5.9px">$97</div>
<div class="a" style="left:266.5px;top:76.1px;font-size:5.9px">$74,890</div>
<div class="hr" style="top:94.1px"></div>
<div class="a" style="left:10px;top:99.7px;width:18.6px;height:18.6px;border-radius:3px;background:#c9f0dd"><svg width="18.6" height="18.6" viewBox="0 0 18.6 18.6"><rect x="3.4" y="5.600" width="11.400" height="8.600" rx="1" fill="#1c1c1e"/><circle cx="8.600" cy="10" r="2.700" fill="#34343a"/><rect x="4.600" y="4.200" width="3.400" height="1.800" fill="#1c1c1e"/><rect x="12" y="7" width="2.200" height="5.500" fill="#2b2b30"/></svg></div>
<div class="a" style="left:32.3px;top:105.8px;font-size:5.9px">Nylon White tshirt</div>
<div class="a" style="left:139.5px;top:105.8px;font-size:5.9px">Smart Home</div>
<div class="a" style="left:201.3px;top:106.2px;width:13px;height:6.6px;border-radius:3.3px;background:#c9ecea;color:#158f88;font-size:4.5px;text-align:center;line-height:6.6px">432</div>
<div class="a" style="left:233.5px;top:105.8px;font-size:5.9px">$97</div>
<div class="a" style="left:266.5px;top:105.8px;font-size:5.9px">$74,890</div>
<div class="hr" style="top:123.8px"></div>
<div class="a" style="left:10px;top:129.5px;width:18.6px;height:18.6px;border-radius:3px;background:#d2e8f6"><svg width="18.6" height="18.6" viewBox="0 0 18.6 18.6"><rect x="5" y="4.6" width="8" height="9.4" fill="#f3f6fa" stroke="#5a4a42" stroke-width=".8"/><circle cx="5.4" cy="5" r="1.1" fill="#d2452f"/><circle cx="12.6" cy="13.4" r="1.1" fill="#d2452f"/></svg></div>
<div class="a" style="left:32.3px;top:135.6px;font-size:5.9px">Pink Tape mens shoes</div>
<div class="a" style="left:139.5px;top:135.6px;font-size:5.9px">Bags</div>
<div class="a" style="left:201.3px;top:136.0px;width:13px;height:6.6px;border-radius:3.3px;background:#c9ecea;color:#158f88;font-size:4.5px;text-align:center;line-height:6.6px">234</div>
<div class="a" style="left:233.5px;top:135.6px;font-size:5.9px">$97</div>
<div class="a" style="left:266.5px;top:135.6px;font-size:5.9px">$74,890</div>
<div class="hr" style="top:153.6px"></div>
<div class="a" style="left:10px;top:159.2px;width:18.6px;height:18.6px;border-radius:3px;background:#e8b7c7"><svg width="18.6" height="18.6" viewBox="0 0 18.6 18.6"><rect x="5" y="5" width="8.6" height="6" rx="1.6" fill="#6f7077"/><circle cx="7.4" cy="7.8" r="1.4" fill="#2a2a2e"/><circle cx="11.2" cy="7.8" r="1.4" fill="#2a2a2e"/><path d="M6.4 11L5.4 14M12.2 11L13.2 14" stroke="#b5232c" stroke-width="1.3"/></svg></div>
<div class="a" style="left:32.3px;top:165.3px;font-size:5.9px">DSLR Camera</div>
<div class="a" style="left:139.5px;top:165.3px;font-size:5.9px">Electronics</div>
<div class="a" style="left:201.3px;top:165.7px;width:13px;height:6.6px;border-radius:3.3px;background:#c9ecea;color:#158f88;font-size:4.5px;text-align:center;line-height:6.6px">678</div>
<div class="a" style="left:233.5px;top:165.3px;font-size:5.9px">$97</div>
<div class="a" style="left:266.5px;top:165.3px;font-size:5.9px">$74,890</div>
<div class="hr" style="top:183.3px"></div>
<div class="a" style="left:10px;top:188.9px;width:18.6px;height:18.6px;border-radius:3px;background:#cfe0f7"><svg width="18.6" height="18.6" viewBox="0 0 18.6 18.6"><rect x="6" y="5" width="6.6" height="8" rx="1.4" fill="#7d8fb0"/><circle cx="9.3" cy="9.4" r="2.2" fill="#eef3fb"/><path d="M9.3 8.2V9.5H10.2" stroke="#5b6c8c" stroke-width=".5" fill="none"/></svg></div>
<div class="a" style="left:32.3px;top:195.0px;font-size:5.9px">Photo Frame</div>
<div class="a" style="left:139.5px;top:195.0px;font-size:5.9px">Fashion</div>
<div class="a" style="left:201.3px;top:195.4px;width:13px;height:6.6px;border-radius:3.3px;background:#c9ecea;color:#158f88;font-size:4.5px;text-align:center;line-height:6.6px">876</div>
<div class="a" style="left:233.5px;top:195.0px;font-size:5.9px">$97</div>
<div class="a" style="left:266.5px;top:195.0px;font-size:5.9px">$74,890</div>
</div>
<div class="a" style="left:619px;top:49px;width:174px;height:57.6px;border-radius:3px;background:linear-gradient(100deg,#2b8f8b 0%,#2a8d89 72%,#257f7c 100%);overflow:hidden">
<svg class="a" style="left:0;top:0" width="174" height="58" viewBox="0 0 174 58"><g stroke="#5db3ae" stroke-width=".35" fill="none"><path d="M58 14.5H63M60.5 12V17M119 52H124M121.500 49.500V54.5" stroke="#76c6c0" stroke-width=".5"/><path d="M120 46L150 22" opacity=".35"/><circle cx="120" cy="95" r="60" opacity=".25"/><circle cx="30" cy="-30" r="50" opacity=".25"/></g><g fill="#8fd0cb"><circle cx="88.500" cy="3.4" r=".7"/><circle cx="63.500" cy="54" r=".7"/><circle cx="133" cy="12" r=".5"/></g><g fill="none" stroke="#e6f5f3" stroke-width=".7"><rect x="136.3" y="30" width="4.300" height="8"/><rect x="143.200" y="27.400" width="4.300" height="10.600"/><rect x="150.100" y="23.800" width="4.300" height="14.200"/><rect x="157" y="18.400" width="4.300" height="19.600"/><path d="M137 26.500C146 25 154 21 158 12.500M154.600 13.300L158.200 12L159.300 15.600"/></g></svg>
<div class="a" style="left:8.4px;top:9.6px;font-size:7.85px;font-weight:bold;color:#fff;letter-spacing:-.25px">Top Sellers of this Week</div>
<div class="a" style="left:8.4px;top:21.2px;font-size:5.6px;color:#eefaf8;line-height:8.1px">You have got 5 new offers, Track here<br>the Sales data and best deals here.</div>
<div class="a" style="left:8.4px;top:41px;font-size:6.5px;letter-spacing:-.25px;color:#fff">3,531</div>
<div class="a" style="left:28.4px;top:42.8px;font-size:4.9px;color:#e3f5f3">↗ 0.5%</div>
</div>
<div class="card" style="left:619px;top:117px;width:82px;height:69.5px">
<svg class="a" style="left:0;top:0" width="82" height="40" viewBox="0 0 82 40"><defs><linearGradient id="sg619" x1="0" y1="0" x2="1" y2="0"><stop offset="0" stop-color="#1f8f88"/><stop offset="1" stop-color="#55c6bf"/></linearGradient></defs><path d="M8.60 28.80C9.90 26.58 11.48 14.78 14.00 14.00C16.52 13.22 16.63 22.84 19.10 23.60C21.57 24.37 21.85 18.19 24.30 19.10C26.75 20.02 26.76 29.19 29.30 29.70C31.84 30.21 31.92 22.29 34.90 22.50C37.88 22.71 40.07 29.81 41.70 31.10" fill="none" stroke="#2a9d96" stroke-width="2.4" opacity=".10" transform="translate(0,1.8)"/><path d="M8.60 28.80C9.90 26.58 11.48 14.78 14.00 14.00C16.52 13.22 16.63 22.84 19.10 23.60C21.57 24.37 21.85 18.19 24.30 19.10C26.75 20.02 26.76 29.19 29.30 29.70C31.84 30.21 31.92 22.29 34.90 22.50C37.88 22.71 40.07 29.81 41.70 31.10" fill="none" stroke="url(#sg619)" stroke-width=".8"/></svg>
<div class="a" style="left:54.8px;top:8.2px;width:18.8px;height:18.8px;border-radius:50%;background:#cdeeec"></div>
<svg class="a" style="left:60px;top:13.3px" width="8.4" height="8.4" viewBox="0 0 7 7" fill="none" stroke="#2a9d96" stroke-width=".55"><rect x=".8" y="2" width="5.4" height="3.8" rx=".5"/><path d="M2.4 2V1.1H4.6V2M.8 3.6H6.2"/></svg>
<div class="a" style="left:8.4px;top:41px;font-size:6.05px">Total Projects</div>
<div class="a" style="left:8.2px;top:49px;font-size:9.2px;color:#2f3a55;transform:scaleX(.9);transform-origin:0 0">60</div>
<div class="a" style="right:8.2px;top:53px;font-size:4.9px;color:#2a9d96">↘ 8.0%</div>
</div>
<div class="card" style="left:711px;top:117px;width:82px;height:69.5px">
<svg class="a" style="left:0;top:0" width="82" height="40" viewBox="0 0 82 40"><defs><linearGradient id="sg711" x1="0" y1="0" x2="1" y2="0"><stop offset="0" stop-color="#b9545e"/><stop offset="1" stop-color="#f0939c"/></linearGradient></defs><path d="M8.70 28.20C9.83 26.84 11.07 20.23 13.40 19.10C15.73 17.98 15.59 21.60 18.40 20.70C21.21 19.80 22.15 12.83 25.10 13.10C28.05 13.37 27.99 22.17 30.70 22.50C33.41 22.83 33.69 15.03 36.40 15.30C39.11 15.57 40.66 22.95 42.00 24.30" fill="none" stroke="#dc5f70" stroke-width="2.4" opacity=".10" transform="translate(0,1.8)"/><path d="M8.70 28.20C9.83 26.84 11.07 20.23 13.40 19.10C15.73 17.98 15.59 21.60 18.40 20.70C21.21 19.80 22.15 12.83 25.10 13.10C28.05 13.37 27.99 22.17 30.70 22.50C33.41 22.83 33.69 15.03 36.40 15.30C39.11 15.57 40.66 22.95 42.00 24.30" fill="none" stroke="url(#sg711)" stroke-width=".8"/></svg>
<div class="a" style="left:54.8px;top:8.2px;width:18.8px;height:18.8px;border-radius:50%;background:#fad7dc"></div>
<svg class="a" style="left:60px;top:13.3px" width="8.4" height="8.4" viewBox="0 0 7 7" fill="none" stroke="#dc5f70" stroke-width=".55"><rect x=".9" y="1" width="5.200" height="3.800" rx=".6"/><path d="M2.400 6L3.500 4.400L4.600 6Z"/></svg>
<div class="a" style="left:8.4px;top:41px;font-size:6.05px">Completed Projects</div>
<div class="a" style="left:8.2px;top:49px;font-size:9.2px;color:#2f3a55;transform:scaleX(.9);transform-origin:0 0">40</div>
<div class="a" style="right:8.2px;top:53px;font-size:4.9px;color:#dc5f70">↘ 4.0%</div>
</div>
<div class="card" style="left:619px;top:197px;width:174px;height:151.5px">
<div class="ct" style="top:4.5px;left:6.8px;font-size:7.2px">Top Product Categories</div><div class="hr" style="top:19.8px"></div>
<div class="btn" style="left:133.3px;top:3.8px;width:34px;height:12.6px;line-height:11px">View All <svg width="3.4" height="3" viewBox="0 0 4 3"><path d="M.6 .8L2 2.2L3.4 .8" fill="none" stroke="#8f9bb3" stroke-width=".6"/></svg></div>
<div class="a" style="left:8.6px;top:28.5px;width:18.8px;height:18.8px;border-radius:50%;background:#cdeeec"></div>
<svg class="a" style="left:14.1px;top:34.0px" width="8" height="8" viewBox="0 0 7 7" fill="none" stroke="#1f9d96" stroke-width=".55"><circle cx="3.5" cy="1.4" r=".7"/><path d="M3.500 2.100V3.400M1.200 5V3.400H5.800V5M3.500 3.400V5"/><circle cx="1.200" cy="5.500" r=".5"/><circle cx="3.500" cy="5.500" r=".5"/><circle cx="5.800" cy="5.500" r=".5"/></svg>
<div class="a" style="left:37px;top:29.0px;font-size:6.1px;color:#2f3a55">Women’s Clothing</div>
<div class="a mut" style="left:37px;top:39.0px;font-size:5.35px">Differnt types of clothing</div>
<div class="a" style="left:130px;top:32.7px;width:35.500px;height:10.600px;border-radius:1.500px;background:#f1f4f9;font-size:4.100px;color:#2f3a55;font-weight:bold;line-height:10.600px;padding-left:8.200px"><span style="position:absolute;left:4.400px;top:4.100px;width:2.400px;height:2.400px;border-radius:50%;background:#0f9d94"></span>40 available</div>
<div class="a" style="left:8.6px;top:57.2px;width:18.8px;height:18.8px;border-radius:50%;background:#fdeccb"></div>
<svg class="a" style="left:14.1px;top:62.7px" width="8" height="8" viewBox="0 0 7 7" fill="none" stroke="#f3a91f" stroke-width=".55"><rect x=".9" y="1.200" width="5.200" height="3.600" rx=".5"/><path d="M2.500 6L3.500 4.800L4.500 6Z"/></svg>
<div class="a" style="left:37px;top:57.7px;font-size:6.1px;color:#2f3a55">Phones and Tablets</div>
<div class="a mut" style="left:37px;top:67.8px;font-size:5.35px">All models of phones</div>
<div class="a" style="left:130px;top:61.4px;width:35.500px;height:10.600px;border-radius:1.500px;background:#f1f4f9;font-size:4.100px;color:#2f3a55;font-weight:bold;line-height:10.600px;padding-left:8.200px"><span style="position:absolute;left:4.400px;top:4.100px;width:2.400px;height:2.400px;border-radius:50%;background:#f7a90e"></span>60 available</div>
<div class="a" style="left:8.6px;top:86.0px;width:18.8px;height:18.8px;border-radius:50%;background:#eae9fb"></div>
<svg class="a" style="left:14.1px;top:91.5px" width="8" height="8" viewBox="0 0 7 7" fill="none" stroke="#6c63d9" stroke-width=".55"><rect x="1.200" y="2.200" width="4.600" height="3.800" rx=".5"/><path d="M2.400 2.200V1.600A1.100 1.100 0 0 1 4.600 1.600V2.200M2.700 4L3.300 4.700L4.400 3.500"/></svg>
<div class="a" style="left:37px;top:86.5px;font-size:6.1px;color:#2f3a55">Electronics</div>
<div class="a mut" style="left:37px;top:96.5px;font-size:5.35px">Related to all Electronics</div>
<div class="a" style="left:130px;top:90.2px;width:35.500px;height:10.600px;border-radius:1.500px;background:#f1f4f9;font-size:4.100px;color:#2f3a55;font-weight:bold;line-height:10.600px;padding-left:8.200px"><span style="position:absolute;left:4.400px;top:4.100px;width:2.400px;height:2.400px;border-radius:50%;background:#2fb65e"></span>70 available</div>
<div class="a" style="left:8.6px;top:114.8px;width:18.8px;height:18.8px;border-radius:50%;background:#d3edf9"></div>
<svg class="a" style="left:14.1px;top:120.2px" width="8" height="8" viewBox="0 0 7 7" fill="none" stroke="#2f9fd8" stroke-width=".55"><path d="M.9 3.300L3.500 1L6.100 3.300V6H.9ZM2.700 6V4.200H4.300V6"/></svg>
<div class="a" style="left:37px;top:115.2px;font-size:6.1px;color:#2f3a55">Home Appliances</div>
<div class="a mut" style="left:37px;top:125.2px;font-size:5.35px">Furnitures,gadgets etc..</div>
<div class="a" style="left:130px;top:118.9px;width:35.500px;height:10.600px;border-radius:1.500px;background:#f1f4f9;font-size:4.100px;color:#2f3a55;font-weight:bold;line-height:10.600px;padding-left:8.200px"><span style="position:absolute;left:4.400px;top:4.100px;width:2.400px;height:2.400px;border-radius:50%;background:#1fa2e0"></span>80 available</div>
</div>
<div class="card" style="left:619px;top:359px;width:174px;height:100.5px">
<div class="ct" style="top:3.9px;left:6.8px;font-size:7.2px">Order Status</div><div class="hr" style="top:17.8px"></div>
<svg class="a" style="left:0;top:0" width="174" height="100" viewBox="0 0 174 100" font-family="Liberation Sans, sans-serif"><path d="M64.75 28.95A28.8 28.8 0 0 1 92.43 49.81L82.73 52.60A18.7 18.7 0 0 0 64.75 39.05Z" fill="#35b3ac"/><path d="M92.43 49.81A28.8 28.8 0 0 1 73.41 85.22L70.37 75.58A18.7 18.7 0 0 0 82.73 52.60Z" fill="#5bc5ea"/><path d="M73.41 85.22A28.8 28.8 0 0 1 47.66 80.93L53.65 72.80A18.7 18.7 0 0 0 70.37 75.58Z" fill="#f9c653"/><path d="M47.66 80.93A28.8 28.8 0 0 1 41.22 41.15L49.47 46.97A18.7 18.7 0 0 0 53.65 72.80Z" fill="#6ec68b"/><path d="M41.22 41.15A28.8 28.8 0 0 1 64.75 28.95L64.75 39.05A18.7 18.7 0 0 0 49.47 46.97Z" fill="#d27585"/><circle cx="112.800" cy="41.50" r="1.900" fill="#2fb0a9"/><text x="116.300" y="43.30" font-size="5" fill="#3b4863">Accepted</text><circle cx="112.800" cy="50.70" r="1.900" fill="#5bc5ea"/><text x="116.300" y="52.50" font-size="5" fill="#3b4863">Rejected</text><circle cx="112.800" cy="59.90" r="1.900" fill="#f9c653"/><text x="116.300" y="61.70" font-size="5" fill="#3b4863">Dispatched</text><circle cx="112.800" cy="69.10" r="1.900" fill="#6ec68b"/><text x="116.300" y="70.90" font-size="5" fill="#3b4863">Delivered</text><circle cx="112.800" cy="78.30" r="1.900" fill="#d27585"/><text x="116.300" y="80.10" font-size="5" fill="#3b4863">Cancelled</text></svg>
</div>
<div class="card" style="left:67px;top:479.5px;width:726px;height:170px">
<div class="ct" style="top:5.2px;left:6.6px;font-size:7.1px">Product Sales</div><div class="hr" style="top:17.6px"></div>
<div class="a" style="left:8.4px;top:24.5px;width:709.2px;height:126.0px;border:.6px solid #f2f4f7"></div>
<div class="a" style="left:40.4px;top:24.5px;width:.6px;height:126.0px;background:#f2f4f7"></div>
<div class="a" style="left:98.2px;top:24.5px;width:.6px;height:126.0px;background:#f2f4f7"></div>
<div class="a" style="left:238px;top:24.5px;width:.6px;height:126.0px;background:#f2f4f7"></div>
<div class="a" style="left:314px;top:24.5px;width:.6px;height:126.0px;background:#f2f4f7"></div>
<div class="a" style="left:397px;top:24.5px;width:.6px;height:126.0px;background:#f2f4f7"></div>
<div class="a" style="left:452px;top:24.5px;width:.6px;height:126.0px;background:#f2f4f7"></div>
<div class="a" style="left:527px;top:24.5px;width:.6px;height:126.0px;background:#f2f4f7"></div>
<div class="a" style="left:582px;top:24.5px;width:.6px;height:126.0px;background:#f2f4f7"></div>
<div class="a" style="left:658.2px;top:24.5px;width:.6px;height:126.0px;background:#f2f4f7"></div>
<div class="a" style="left:8.4px;top:41.00px;width:709.2px;height:.6px;background:#f2f4f7"></div>
<div class="a" style="left:8.4px;top:62.90px;width:709.2px;height:.6px;background:#f2f4f7"></div>
<div class="a" style="left:8.4px;top:84.80px;width:709.2px;height:.6px;background:#f2f4f7"></div>
<div class="a" style="left:8.4px;top:106.70px;width:709.2px;height:.6px;background:#f2f4f7"></div>
<div class="a" style="left:8.4px;top:128.60px;width:709.2px;height:.6px;background:#f2f4f7"></div>
<div class="a" style="left:46px;top:28.9px;font-size:6.1px;color:#2a3350">Order no</div>
<div class="a" style="left:103.2px;top:28.9px;font-size:6.1px;color:#2a3350">Product</div>
<div class="a" style="left:243.8px;top:28.9px;font-size:6.1px;color:#2a3350">Ratings</div>
<div class="a" style="left:319.9px;top:28.9px;font-size:6.1px;color:#2a3350">Customer</div>
<div class="a" style="left:397px;width:55px;text-align:center;top:28.9px;font-size:6.1px;color:#2a3350">Quantity</div>
<div class="a" style="left:457.5px;top:28.9px;font-size:6.1px;color:#2a3350">Status</div>
<div class="a" style="left:532px;top:28.9px;font-size:6.1px;color:#2a3350">Price</div>
<div class="a" style="left:588px;top:28.9px;font-size:6.1px;color:#2a3350">Ordered date</div>
<div class="a" style="left:664px;top:28.9px;font-size:6.1px;color:#2a3350">Actions</div>
<div class="a" style="left:19.5px;top:29.9px;width:5.600px;height:5.600px;border-radius:1px;background:#f1f4f9;border:.4px solid #e6eaf1"></div>
<div class="a" style="left:19.5px;top:49.5px;width:5.600px;height:5.600px;border-radius:1px;background:#0f9d94"><svg width="5.6" height="5.6" viewBox="0 0 5.6 5.6" style="display:block"><path d="M1.400 2.900L2.400 3.900L4.200 1.900" fill="none" stroke="#fff" stroke-width=".7"/></svg></div>
<div class="a" style="left:46px;top:47.9px;font-size:6px;color:#333d57;font-weight:bold;letter-spacing:-.08px">#1537890</div>
<div class="a" style="left:103.5px;top:47.1px;width:10px;height:10px;border-radius:1.800px;background:#8db3ae;overflow:hidden"><svg width="10.4" height="10.4" viewBox="0 0 10.4 10.4" style="display:block"><path d="M3 2.400L4 6H7.200V7.400H3.600L3 2.400Z" fill="#1d2b33"/><path d="M4 7.400V8.600M7 7.400V8.600" stroke="#1d2b33" stroke-width=".6"/></svg></div>
<div class="a" style="left:116.8px;top:47.9px;font-size:6.05px">A semi minimal chair</div>
<div class="a" style="left:243.8px;top:47.5px;font-size:6.6px;color:#2f3a55">5.0<span style="font-size:5px;color:#8f9bb3;vertical-align:0;margin-left:1.2px">(90 Mem)</span><span style="font-size:6.4px;color:#f7b21e;vertical-align:-.2px;margin-left:1px;font-family:DejaVu Sans,sans-serif">★</span></div>
<div class="a" style="left:319.9px;top:47.9px;font-size:5.95px">Simon Cowall</div>
<div class="a" style="left:397px;width:55px;text-align:center;top:47.9px;font-size:5.9px">1</div>
<div class="a" style="left:457.5px;top:48.9px;height:7.300px;line-height:7.300px;padding:0 2.500px;border-radius:1.400px;background:#d5f0dc;color:#3cae62;font-size:5px">Shipped</div>
<div class="a" style="left:532px;top:47.9px;font-size:6px;color:#333d57;font-weight:bold;letter-spacing:-.08px">$4320.29</div>
<div class="a" style="left:588px;top:47.9px;font-size:5.95px">25 Mar 2022</div>
<div class="a" style="left:664px;top:46.2px;width:12px;height:12px;border-radius:1.800px;background:#e2f3fc"><svg width="12" height="12" viewBox="0 0 12 12" style="display:block"><path d="M4.600 7.600L4.900 6.300L7.200 3.900L8 4.700L5.700 7.100ZM4.400 8.300H8" fill="none" stroke="#3a9fd6" stroke-width=".6"/></svg></div>
<div class="a" style="left:678.8px;top:46.2px;width:12px;height:12px;border-radius:1.800px;background:#fde4e8"><svg width="12" height="12" viewBox="0 0 12 12" style="display:block"><path d="M4.200 4.600H7.800M4.700 4.600V8.200H7.300V4.600M5.300 4.600V3.800H6.700V4.600" fill="none" stroke="#e0395a" stroke-width=".65"/></svg></div>
<div class="a" style="left:19.5px;top:71.3px;width:5.600px;height:5.600px;border-radius:1px;background:#f1f4f9;border:.4px solid #e6eaf1"></div>
<div class="a" style="left:46px;top:69.8px;font-size:6px;color:#333d57;font-weight:bold;letter-spacing:-.08px">#1539078</div>
<div class="a" style="left:103.5px;top:68.9px;width:10px;height:10px;border-radius:1.800px;background:#6a7280;overflow:hidden"><svg width="10.4" height="10.4" viewBox="0 0 10.4 10.4" style="display:block"><rect x="1.600" y="3" width="7" height="4.400" rx="2" fill="#23272f"/><circle cx="6.400" cy="5.200" r="1.500" fill="#e9edf2"/></svg></div>
<div class="a" style="left:116.8px;top:69.8px;font-size:6.05px">Two type of watch sets</div>
<div class="a" style="left:243.8px;top:69.3px;font-size:6.6px;color:#2f3a55">3.0<span style="font-size:5px;color:#8f9bb3;vertical-align:0;margin-left:1.2px">(50 Mem)</span><span style="font-size:6.4px;color:#f7b21e;vertical-align:-.2px;margin-left:1px;font-family:DejaVu Sans,sans-serif">★</span></div>
<div class="a" style="left:319.9px;top:69.8px;font-size:5.95px">Meisha Kerr</div>
<div class="a" style="left:397px;width:55px;text-align:center;top:69.8px;font-size:5.9px">2</div>
<div class="a" style="left:457.5px;top:70.8px;height:7.300px;line-height:7.300px;padding:0 2.500px;border-radius:1.400px;background:#fbd3da;color:#e0395a;font-size:5px">Cancelled</div>
<div class="a" style="left:532px;top:69.8px;font-size:6px;color:#333d57;font-weight:bold;letter-spacing:-.08px">$6745.99</div>
<div class="a" style="left:588px;top:69.8px;font-size:5.95px">25 Mar 2022</div>
<div class="a" style="left:664px;top:68.0px;width:12px;height:12px;border-radius:1.800px;background:#e2f3fc"><svg width="12" height="12" viewBox="0 0 12 12" style="display:block"><path d="M4.600 7.600L4.900 6.300L7.200 3.900L8 4.700L5.700 7.100ZM4.400 8.300H8" fill="none" stroke="#3a9fd6" stroke-width=".6"/></svg></div>
<div class="a" style="left:678.8px;top:68.0px;width:12px;height:12px;border-radius:1.800px;background:#fde4e8"><svg width="12" height="12" viewBox="0 0 12 12" style="display:block"><path d="M4.200 4.600H7.800M4.700 4.600V8.200H7.300V4.600M5.300 4.600V3.800H6.700V4.600" fill="none" stroke="#e0395a" stroke-width=".65"/></svg></div>
<div class="a" style="left:19.5px;top:93.2px;width:5.600px;height:5.600px;border-radius:1px;background:#f1f4f9;border:.4px solid #e6eaf1"></div>
<div class="a" style="left:46px;top:91.7px;font-size:6px;color:#333d57;font-weight:bold;letter-spacing:-.08px">#1539832</div>
<div class="a" style="left:103.5px;top:90.8px;width:10px;height:10px;border-radius:1.800px;background:#dddcf8;overflow:hidden"><svg width="10.4" height="10.4" viewBox="0 0 10.4 10.4" style="display:block"><path d="M1.600 6.600A1.800 1.800 0 0 1 4.800 5.400M5.600 5A2 2 0 0 1 8.800 6.600" fill="none" stroke="#3a3d55" stroke-width=".8"/></svg></div>
<div class="a" style="left:116.8px;top:91.7px;font-size:6.05px">Mony layer headphones</div>
<div class="a" style="left:243.8px;top:91.2px;font-size:6.6px;color:#2f3a55">4.5<span style="font-size:5px;color:#8f9bb3;vertical-align:0;margin-left:1.2px">(65 Mem)</span><span style="font-size:6.4px;color:#f7b21e;vertical-align:-.2px;margin-left:1px;font-family:DejaVu Sans,sans-serif">★</span></div>
<div class="a" style="left:319.9px;top:91.7px;font-size:5.95px">Jessica</div>
<div class="a" style="left:397px;width:55px;text-align:center;top:91.7px;font-size:5.9px">1</div>
<div class="a" style="left:457.5px;top:92.7px;height:7.300px;line-height:7.300px;padding:0 2.500px;border-radius:1.400px;background:#d3ecfa;color:#3a9fd6;font-size:5px">Under Process</div>
<div class="a" style="left:532px;top:91.7px;font-size:6px;color:#333d57;font-weight:bold;letter-spacing:-.08px">$1176.89</div>
<div class="a" style="left:588px;top:91.7px;font-size:5.95px">27 Feb 2022</div>
<div class="a" style="left:664px;top:90.0px;width:12px;height:12px;border-radius:1.800px;background:#e2f3fc"><svg width="12" height="12" viewBox="0 0 12 12" style="display:block"><path d="M4.600 7.600L4.900 6.300L7.200 3.900L8 4.700L5.700 7.100ZM4.400 8.300H8" fill="none" stroke="#3a9fd6" stroke-width=".6"/></svg></div>
<div class="a" style="left:678.8px;top:90.0px;width:12px;height:12px;border-radius:1.800px;background:#fde4e8"><svg width="12" height="12" viewBox="0 0 12 12" style="display:block"><path d="M4.200 4.600H7.800M4.700 4.600V8.200H7.300V4.600M5.300 4.600V3.800H6.700V4.600" fill="none" stroke="#e0395a" stroke-width=".65"/></svg></div>
<div class="a" style="left:19.5px;top:115.1px;width:5.600px;height:5.600px;border-radius:1px;background:#f1f4f9;border:.4px solid #e6eaf1"></div>
<div class="a" style="left:46px;top:113.5px;font-size:6px;color:#333d57;font-weight:bold;letter-spacing:-.08px">#1538267</div>
<div class="a" style="left:103.5px;top:112.7px;width:10px;height:10px;border-radius:1.800px;background:#2f73c9;overflow:hidden"><svg width="10.4" height="10.4" viewBox="0 0 10.4 10.4" style="display:block"><path d="M0 5L3 3.400L6 5.800L10.400 6.600V10.400H0Z" fill="#f0642c"/><path d="M2 2.400L5 4.400" stroke="#152a52" stroke-width="1.400"/></svg></div>
<div class="a" style="left:116.8px;top:113.5px;font-size:6.05px">Sportive coloured shoes</div>
<div class="a" style="left:243.8px;top:113.1px;font-size:6.6px;color:#2f3a55">2.5<span style="font-size:5px;color:#8f9bb3;vertical-align:0;margin-left:1.2px">(15 Mem)</span><span style="font-size:6.4px;color:#f7b21e;vertical-align:-.2px;margin-left:1px;font-family:DejaVu Sans,sans-serif">★</span></div>
<div class="a" style="left:319.9px;top:113.5px;font-size:5.95px">Jason Stathman</div>
<div class="a" style="left:397px;width:55px;text-align:center;top:113.5px;font-size:5.9px">1</div>
<div class="a" style="left:457.5px;top:114.5px;height:7.300px;line-height:7.300px;padding:0 2.500px;border-radius:1.400px;background:#fdecc8;color:#e8a62a;font-size:5px">Pending</div>
<div class="a" style="left:532px;top:113.5px;font-size:6px;color:#333d57;font-weight:bold;letter-spacing:-.08px">$1867.29</div>
<div class="a" style="left:588px;top:113.5px;font-size:5.95px">2 Apr 2022</div>
<div class="a" style="left:664px;top:111.8px;width:12px;height:12px;border-radius:1.800px;background:#e2f3fc"><svg width="12" height="12" viewBox="0 0 12 12" style="display:block"><path d="M4.600 7.600L4.900 6.300L7.200 3.900L8 4.700L5.700 7.100ZM4.400 8.300H8" fill="none" stroke="#3a9fd6" stroke-width=".6"/></svg></div>
<div class="a" style="left:678.8px;top:111.8px;width:12px;height:12px;border-radius:1.800px;background:#fde4e8"><svg width="12" height="12" viewBox="0 0 12 12" style="display:block"><path d="M4.200 4.600H7.800M4.700 4.600V8.200H7.300V4.600M5.300 4.600V3.800H6.700V4.600" fill="none" stroke="#e0395a" stroke-width=".65"/></svg></div>
<div class="a" style="left:19.5px;top:137.0px;width:5.600px;height:5.600px;border-radius:1px;background:#f1f4f9;border:.4px solid #e6eaf1"></div>
<div class="a" style="left:46px;top:135.4px;font-size:6px;color:#333d57;font-weight:bold;letter-spacing:-.08px">#1537890</div>
<div class="a" style="left:103.5px;top:134.6px;width:10px;height:10px;border-radius:1.800px;background:#f6c6ca;overflow:hidden"><svg width="10.4" height="10.4" viewBox="0 0 10.4 10.4" style="display:block"><rect x="1.800" y="4" width="2.800" height="1.800" rx=".6" fill="#3a2a33"/><rect x="5.600" y="4" width="2.800" height="1.800" rx=".6" fill="#3a2a33"/><path d="M4.600 4.600H5.600" stroke="#3a2a33" stroke-width=".4"/></svg></div>
<div class="a" style="left:116.8px;top:135.4px;font-size:6.05px">Vayon black shades</div>
<div class="a" style="left:243.8px;top:135.0px;font-size:6.6px;color:#2f3a55">3.5<span style="font-size:5px;color:#8f9bb3;vertical-align:0;margin-left:1.2px">(36 Mem)</span><span style="font-size:6.4px;color:#f7b21e;vertical-align:-.2px;margin-left:1px;font-family:DejaVu Sans,sans-serif">★</span></div>
<div class="a" style="left:319.9px;top:135.4px;font-size:5.95px">Khabib Hussain</div>
<div class="a" style="left:397px;width:55px;text-align:center;top:135.4px;font-size:5.9px">1</div>
<div class="a" style="left:457.5px;top:136.4px;height:7.300px;line-height:7.300px;padding:0 2.500px;border-radius:1.400px;background:#d5f0dc;color:#3cae62;font-size:5px">Shipped</div>
<div class="a" style="left:532px;top:135.4px;font-size:6px;color:#333d57;font-weight:bold;letter-spacing:-.08px">$2439.99</div>
<div class="a" style="left:588px;top:135.4px;font-size:5.95px">8 Apr 2022</div>
<div class="a" style="left:664px;top:133.7px;width:12px;height:12px;border-radius:1.800px;background:#e2f3fc"><svg width="12" height="12" viewBox="0 0 12 12" style="display:block"><path d="M4.600 7.600L4.900 6.300L7.200 3.900L8 4.700L5.700 7.100ZM4.400 8.300H8" fill="none" stroke="#3a9fd6" stroke-width=".6"/></svg></div>
<div class="a" style="left:678.8px;top:133.7px;width:12px;height:12px;border-radius:1.800px;background:#fde4e8"><svg width="12" height="12" viewBox="0 0 12 12" style="display:block"><path d="M4.200 4.600H7.800M4.700 4.600V8.200H7.300V4.600M5.300 4.600V3.800H6.700V4.600" fill="none" stroke="#e0395a" stroke-width=".65"/></svg></div>
</div>
<div class="a" style="left:772px;top:632px;width:21px;height:10px;border-radius:2.500px;background:#0f9d94"></div>
<div id="side">
<div class="a" style="left:0;top:21.3px;width:59px;height:.6px;background:#1c5270"></div>
<svg class="a" style="left:8px;top:2.4px" width="12" height="13" viewBox="8 2.4 12 13"><path d="M14 3.400L19 6.200V11.600L14 14.400L9 11.600V6.200Z" fill="#f2f6f9"/><path d="M14.500 2.800V7.600" stroke="#063d5a" stroke-width="1.900" stroke-linecap="round"/><path d="M9 9.200L14 12L19 9.200M9 10.900L14 13.700L19 10.900M10.200 6.400L14 8.600M16.500 5.300L18.800 6.600" stroke="#063d5a" stroke-width=".55" fill="none"/></svg>
<div class="a" style="left:21.6px;top:2.6px;font-size:11px;line-height:1;color:#fff;letter-spacing:.2px;-webkit-text-stroke:.25px #fff">vexel</div>
<div class="a" style="left:0;top:26.3px;width:57.3px;height:26.600px;background:#154a68"></div>
<svg class="sic" style="top:32.0px" viewBox="0 0 7 7" fill="none" stroke="#c9d9e3" stroke-width=".6"><path d="M1 3.400L3.500 1.200L6 3.400V6H1ZM2.700 6V4.400H4.300V6"/></svg>
<div class="si" style="top:41.2px;color:#fff;font-weight:bold;left:-1px">Dashboard</div>
<svg class="sic" style="top:62.1px" viewBox="0 0 7 7" fill="none" stroke="#1fb5ad" stroke-width=".6"><path d="M3.500 1L6 2.400L3.500 3.800L1 2.400ZM1 3.800L3.500 5.200L6 3.800M1 5L3.500 6.400L6 5" /></svg>
<div class="si" style="top:71.3px;color:#e9f1f6;font-weight:normal;left:-1px">Pages</div>
<svg class="sic" style="top:92.2px" viewBox="0 0 7 7" fill="none" stroke="#1fb5ad" stroke-width=".6"><circle cx="3.500" cy="3.500" r="2.700"/><path d="M3.500 2V3.800M3.500 4.700V5.100"/></svg>
<div class="si" style="top:101.4px;color:#e9f1f6;font-weight:normal;left:-1px">Authentication</div>
<svg class="sic" style="top:122.2px" viewBox="0 0 7 7" fill="none" stroke="#1fb5ad" stroke-width=".6"><rect x="1" y="1" width="2" height="2" rx=".5"/><rect x="4" y="1" width="2" height="2" rx=".5"/><rect x="1" y="4" width="2" height="2" rx=".5"/><rect x="4" y="4" width="2" height="2" rx=".5"/></svg>
<div class="si" style="top:131.4px;color:#e9f1f6;font-weight:normal;left:-1px">Widgets</div>
<svg class="sic" style="top:152.3px" viewBox="0 0 7 7" fill="none" stroke="#1fb5ad" stroke-width=".6"><circle cx="3.500" cy="3.500" r="2.700"/><path d="M2.400 2.400L4.600 3.200L3.900 4.600Z"/></svg>
<div class="si" style="top:161.5px;color:#e9f1f6;font-weight:normal;left:-1px">UI Kit</div>
<svg class="sic" style="top:182.4px" viewBox="0 0 7 7" fill="none" stroke="#1fb5ad" stroke-width=".6"><circle cx="3.500" cy="3.500" r="2.700"/><path d="M2.300 4.700C2.800 3.900 4.200 3.900 4.700 4.700M2.500 2.800V3M4.500 2.800V3"/></svg>
<div class="si" style="top:191.6px;color:#e9f1f6;font-weight:normal;left:-1px">Icons</div>
<svg class="sic" style="top:212.5px" viewBox="0 0 7 7" fill="none" stroke="#1fb5ad" stroke-width=".6"><rect x="1" y="1" width="2" height="2" rx=".5"/><rect x="4" y="1" width="2" height="2" rx=".5"/><rect x="1" y="4" width="2" height="2" rx=".5"/><rect x="4" y="4" width="2" height="2" rx=".5"/></svg>
<div class="si" style="top:221.7px;color:#e9f1f6;font-weight:normal;left:-1px">Admin UI</div>
<svg class="sic" style="top:242.6px" viewBox="0 0 7 7" fill="none" stroke="#1fb5ad" stroke-width=".6"><path d="M6.200 .8C4 .9 2.600 2.300 2.200 4L3 4.800C4.700 4.400 6.100 3 6.200 .8ZM2.200 4L1 3.800L2 2.600M3 4.800L3.200 6L4.400 5M1.200 5.800L2 5"/></svg>
<div class="si" style="top:251.8px;color:#e9f1f6;font-weight:normal;left:-1px">Landing Page</div>
<svg class="sic" style="top:272.6px" viewBox="0 0 7 7" fill="none" stroke="#1fb5ad" stroke-width=".6"><rect x="1" y="1.200" width="5" height="4.600" rx=".4"/><path d="M3.500 1.200V5.800M1 2.600H6"/></svg>
<div class="si" style="top:281.8px;color:#e9f1f6;font-weight:normal;left:-1px">Nested Menu</div>
<svg class="sic" style="top:302.7px" viewBox="0 0 7 7" fill="none" stroke="#1fb5ad" stroke-width=".6"><path d="M1.600 .9H4.200L5.600 2.300V6.100H1.600ZM4.200 .9V2.300H5.600M2.600 3.600H4.600M2.600 4.800H4.600"/></svg>
<div class="si" style="top:311.9px;color:#e9f1f6;font-weight:normal;left:-1px">Forms</div>
<svg class="sic" style="top:332.8px" viewBox="0 0 7 7" fill="none" stroke="#1fb5ad" stroke-width=".6"><rect x="1" y="1" width="2" height="2" rx=".3"/><rect x="4" y="1" width="2" height="2" rx=".3"/><rect x="1" y="4" width="2" height="2" rx=".3"/><rect x="4" y="4" width="2" height="2" rx=".3"/></svg>
<div class="si" style="top:342.0px;color:#e9f1f6;font-weight:normal;left:-1px">Tables</div>
<svg class="sic" style="top:362.9px" viewBox="0 0 7 7" fill="none" stroke="#1fb5ad" stroke-width=".6"><path d="M3.500 6.300C2 4.600 1.400 3.800 1.400 2.900A2.100 2.100 0 0 1 5.600 2.900C5.600 3.800 5 4.600 3.500 6.300Z"/><circle cx="3.500" cy="2.900" r=".7"/></svg>
<div class="si" style="top:372.1px;color:#e9f1f6;font-weight:normal;left:-1px">Maps</div>
<svg class="sic" style="top:393.0px" viewBox="0 0 7 7" fill="none" stroke="#1fb5ad" stroke-width=".6"><rect x="1" y="1" width="5" height="5" rx=".5"/><path d="M2.200 4.800V3.600M3.500 4.800V2.400M4.800 4.800V3.200"/></svg>
<div class="si" style="top:402.2px;color:#e9f1f6;font-weight:normal;left:-1px">Charts</div>
</div>
<div id="sub">
<div class="sd" style="top:7.8px"></div><div class="sm" style="top:5.3px">Profile</div>
<div class="sd" style="top:23.1px"></div><div class="sm" style="top:20.6px">Notification List</div>
<div class="sd" style="top:38.7px"></div><div class="sm" style="top:36.2px">Mail-Inbox</div>
<div class="sd" style="top:54.2px"></div><div class="sm" style="top:51.7px">Gallery</div>
<div class="sd" style="top:71.4px"></div><div class="sm" style="top:68.9px">Extension</div>
<svg class="a" style="left:67.4px;top:71.0px" width="3" height="4" viewBox="0 0 3 4"><path d="M.8 .6L2.300 2L.8 3.400" fill="none" stroke="#7f97b0" stroke-width=".5"/></svg>
<div class="sd" style="top:88.5px"></div><div class="sm" style="top:86.0px">File Manager</div>
<svg class="a" style="left:67.4px;top:88.1px" width="3" height="4" viewBox="0 0 3 4"><path d="M.8 .6L2.300 2L.8 3.400" fill="none" stroke="#7f97b0" stroke-width=".5"/></svg>
<div class="sd" style="top:105.5px"></div><div class="sm" style="top:103.0px">Ecommerce</div>
<svg class="a" style="left:67.4px;top:105.1px" width="3" height="4" viewBox="0 0 3 4"><path d="M.8 .6L2.300 2L.8 3.400" fill="none" stroke="#7f97b0" stroke-width=".5"/></svg>
</div>
</body></html>
